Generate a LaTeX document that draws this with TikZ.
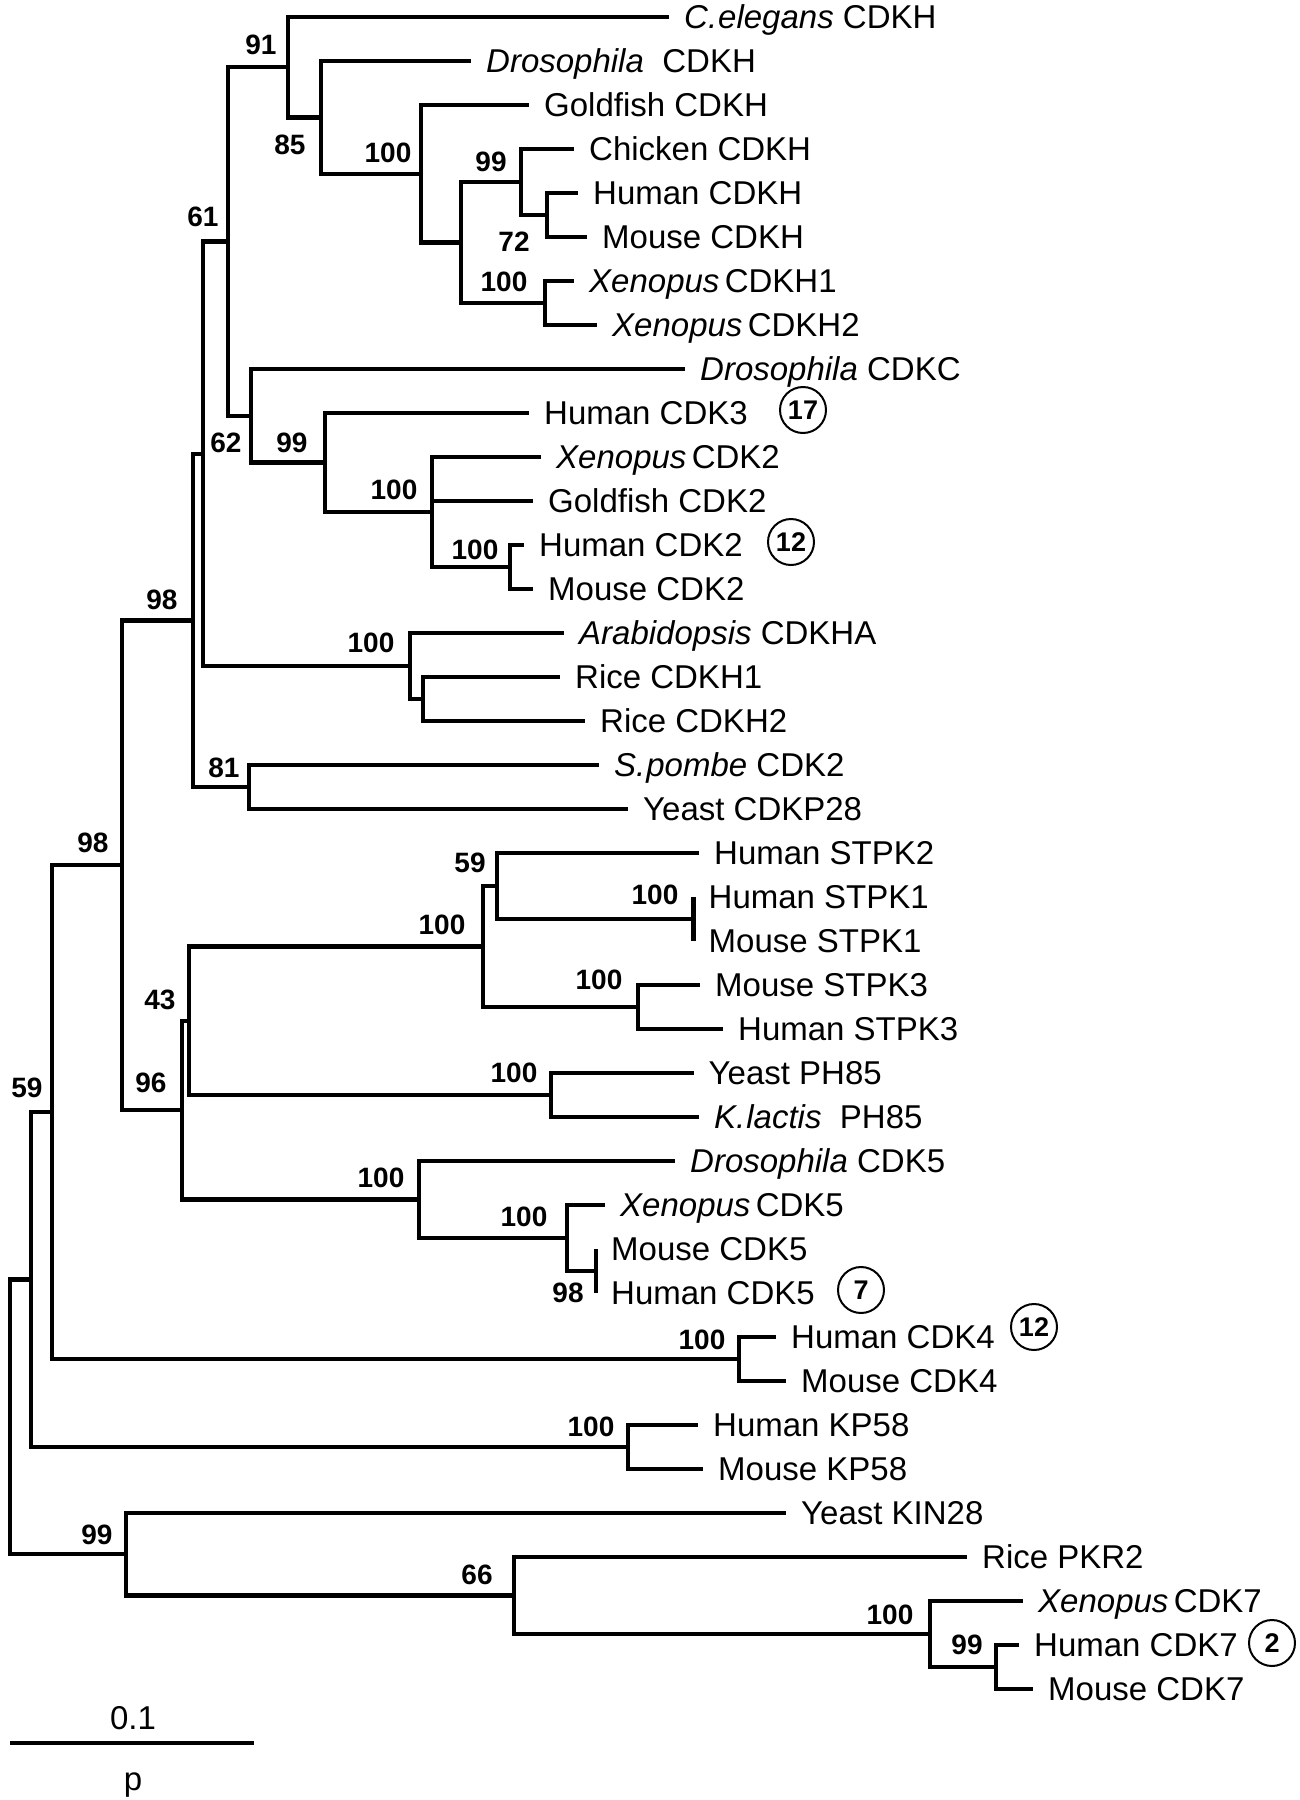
\documentclass[tikz,border=0pt]{standalone}
\usepackage{fontspec}
\setmainfont{Liberation Sans}
\newcommand{\xen}{\textit{Xenopus}\hspace{0.16em}}
\begin{document}
\begin{tikzpicture}[x=1pt,y=-1pt,
  tree/.style={line width=4.3pt},
  leaf/.style={anchor=west, inner xsep=15pt, inner ysep=0pt, text height=23.6pt, text depth=0pt, font=\fontsize{33}{40}\selectfont},
  bs/.style={inner sep=0pt, font=\bfseries\fontsize{28}{34}\selectfont},
  circ/.style={draw, circle, line width=2pt, minimum size=46pt, inner sep=0pt, font=\bfseries\fontsize{27}{30}\selectfont},
  plain/.style={inner sep=0pt, font=\fontsize{33}{40}\selectfont}]
\useasboundingbox (0,0) rectangle (1300,1800);
% ---------- leaves ----------
\node[leaf] (l1)  at (669,17)   {\textit{C.\kern1pt elegans} CDKH};
\node[leaf] (l2)  at (471,61)   {\textit{Drosophila}\hspace{0.28em} CDKH};
\node[leaf] (l3)  at (529,105)  {Goldfish CDKH};
\node[leaf] (l4)  at (574,149)  {Chicken CDKH};
\node[leaf] (l5)  at (578,193)  {Human CDKH};
\node[leaf] (l6)  at (587,237)  {Mouse CDKH};
\node[leaf] (l7)  at (574,281)  {\xen CDKH1};
\node[leaf] (l8)  at (597,325)  {\xen CDKH2};
\node[leaf] (l9)  at (685,369)  {\textit{Drosophila} CDKC};
\node[leaf] (l10) at (529,413)  {Human CDK3};
\node[leaf] (l11) at (541,457)  {\xen CDK2};
\node[leaf] (l12) at (533,501)  {Goldfish CDK2};
\node[leaf] (l13) at (524,545)  {Human CDK2};
\node[leaf] (l14) at (533,589)  {Mouse CDK2};
\node[leaf] (l15) at (564,633)  {\textit{Arabidopsis} CDKHA};
\node[leaf] (l16) at (560,677)  {Rice CDKH1};
\node[leaf] (l17) at (585,721)  {Rice CDKH2};
\node[leaf] (l18) at (599,765)  {\textit{S.\kern1pt pombe} CDK2};
\node[leaf] (l19) at (628,809)  {Yeast CDKP28};
\node[leaf] (l20) at (699,853)  {Human STPK2};
\node[leaf] (l21) at (693.5,897)  {Human STPK1};
\node[leaf] (l22) at (693.5,941)  {Mouse STPK1};
\node[leaf] (l23) at (700,985)  {Mouse STPK3};
\node[leaf] (l24) at (723,1029) {Human STPK3};
\node[leaf] (l25) at (693.5,1073) {Yeast PH85};
\node[leaf] (l26) at (699,1117) {\textit{K.\kern1pt lactis}\hspace{0.28em} PH85};
\node[leaf] (l27) at (675,1161) {\textit{Drosophila} CDK5};
\node[leaf] (l28) at (605,1205) {\xen CDK5};
\node[leaf] (l29) at (596,1249) {Mouse CDK5};
\node[leaf] (l30) at (596,1293) {Human CDK5};
\node[leaf] (l31) at (776,1337) {Human CDK4};
\node[leaf] (l32) at (786,1381) {Mouse CDK4};
\node[leaf] (l33) at (698,1425) {Human KP58};
\node[leaf] (l34) at (703,1469) {Mouse KP58};
\node[leaf] (l35) at (786,1513) {Yeast KIN28};
\node[leaf] (l36) at (967,1557) {Rice PKR2};
\node[leaf] (l37) at (1023,1601) {\xen CDK7};
\node[leaf] (l38) at (1019,1645) {Human CDK7};
\node[leaf] (l39) at (1033,1689) {Mouse CDK7};
% ---------- circled counts ----------
\node[circ] (c17) at (803,410)  {17};
\node[circ] (c12a) at (791,542) {12};
\node[circ] (c7)  at (861,1290) {7};
\node[circ] (c12b) at (1034,1327) {12};
\node[circ] (c2)  at (1272,1643) {2};
% ---------- internal nodes ----------
\coordinate (root)  at (10,1417);
\coordinate (nA)    at (31,1279.5);
\coordinate (nB)    at (52,1112);
\coordinate (nC)    at (122,865.2);
\coordinate (nD)    at (193,620.4);
\coordinate (nF)    at (203,453.7);
\coordinate (n61)   at (228,241.5);
\coordinate (n91)   at (288,67.2);
\coordinate (n85)   at (321,117.4);
\coordinate (n100a) at (421,173.75);
\coordinate (nb)    at (461,242.5);
\coordinate (n99)   at (521,182);
\coordinate (n72)   at (547,215);
\coordinate (n100x) at (545,303);
\coordinate (n62)   at (251,415.75);
\coordinate (n99d)  at (325,462.5);
\coordinate (n100d) at (432,512);
\coordinate (n100e) at (510,567);
\coordinate (nArab) at (410,666);
\coordinate (nRice) at (423,699);
\coordinate (n81)   at (249,787);
\coordinate (nE)    at (182,1110);
\coordinate (n43)   at (189,1020.75);
\coordinate (nS)    at (483,946.5);
\coordinate (n59s)  at (497,886);
\coordinate (nST1)  at (693.5,919);
\coordinate (nST3)  at (638,1007);
\coordinate (nPH)   at (551,1095);
\coordinate (nC5)   at (419,1199.5);
\coordinate (nC5b)  at (567,1238);
\coordinate (nC5c)  at (596,1271);
\coordinate (nCDK4) at (739,1359);
\coordinate (nKP)   at (628,1447);
\coordinate (n99b)  at (126,1554.25);
\coordinate (n66)   at (514,1595.5);
\coordinate (nC7)   at (930,1634);
\coordinate (nC7b)  at (996,1667);
% ---------- branches ----------
\draw[tree] (root) |- (nA);
\draw[tree] (root) |- (n99b);
\draw[tree] (nA) |- (nB);
\draw[tree] (nA) |- (nKP);
\draw[tree] (nB) |- (nC);
\draw[tree] (nB) |- (nCDK4);
\draw[tree] (nC) |- (nD);
\draw[tree] (nC) |- (nE);
\draw[tree] (nD) |- (nF);
\draw[tree] (nD) |- (n81);
\draw[tree] (nF) |- (n61);
\draw[tree] (nF) |- (nArab);
\draw[tree] (n61) |- (n91);
\draw[tree] (n61) |- (n62);
\draw[tree] (n91) |- (l1.west);
\draw[tree] (n91) |- (n85);
\draw[tree] (n85) |- (l2.west);
\draw[tree] (n85) |- (n100a);
\draw[tree] (n100a) |- (l3.west);
\draw[tree] (n100a) |- (nb);
\draw[tree] (nb) |- (n99);
\draw[tree] (nb) |- (n100x);
\draw[tree] (n99) |- (l4.west);
\draw[tree] (n99) |- (n72);
\draw[tree] (n72) |- (l5.west);
\draw[tree] (n72) |- (l6.west);
\draw[tree] (n100x) |- (l7.west);
\draw[tree] (n100x) |- (l8.west);
\draw[tree] (n62) |- (l9.west);
\draw[tree] (n62) |- (n99d);
\draw[tree] (n99d) |- (l10.west);
\draw[tree] (n99d) |- (n100d);
\draw[tree] (n100d) |- (l11.west);
\draw[tree] (n100d) |- (l12.west);
\draw[tree] (n100d) |- (n100e);
\draw[tree] (n100e) |- (l13.west);
\draw[tree] (n100e) |- (l14.west);
\draw[tree] (nArab) |- (l15.west);
\draw[tree] (nArab) |- (nRice);
\draw[tree] (nRice) |- (l16.west);
\draw[tree] (nRice) |- (l17.west);
\draw[tree] (n81) |- (l18.west);
\draw[tree] (n81) |- (l19.west);
\draw[tree] (nE) |- (n43);
\draw[tree] (nE) |- (nC5);
\draw[tree] (n43) |- (nS);
\draw[tree] (n43) |- (nPH);
\draw[tree] (nS) |- (n59s);
\draw[tree] (nS) |- (nST3);
\draw[tree] (n59s) |- (l20.west);
\draw[tree] (n59s) |- (nST1);
\draw[tree] (nST1) -- (nST1 |- l21.west);
\draw[tree] (nST1) -- (nST1 |- l22.west);
\draw[tree] (nST3) |- (l23.west);
\draw[tree] (nST3) |- (l24.west);
\draw[tree] (nPH) |- (l25.west);
\draw[tree] (nPH) |- (l26.west);
\draw[tree] (nC5) |- (l27.west);
\draw[tree] (nC5) |- (nC5b);
\draw[tree] (nC5b) |- (l28.west);
\draw[tree] (nC5b) |- (nC5c);
\draw[tree] (nC5c) -- (nC5c |- l29.west);
\draw[tree] (nC5c) -- (nC5c |- l30.west);
\draw[tree] (nCDK4) |- (l31.west);
\draw[tree] (nCDK4) |- (l32.west);
\draw[tree] (nKP) |- (l33.west);
\draw[tree] (nKP) |- (l34.west);
\draw[tree] (n99b) |- (l35.west);
\draw[tree] (n99b) |- (n66);
\draw[tree] (n66) |- (l36.west);
\draw[tree] (n66) |- (nC7);
\draw[tree] (nC7) |- (l37.west);
\draw[tree] (nC7) |- (nC7b);
\draw[tree] (nC7b) |- (l38.west);
\draw[tree] (nC7b) |- (l39.west);
% ---------- bootstrap values ----------
\node[bs] (b91)  at (261,45)   {91};
\node[bs] (b85)  at (290,145)  {85};
\node[bs] (b100a) at (388,153) {100};
\node[bs] (b99)  at (491,162)  {99};
\node[bs] (b72)  at (514,242)  {72};
\node[bs] (b100x) at (504,282) {100};
\node[bs] (b61)  at (203,217)  {61};
\node[bs] (b62)  at (226,443)  {62};
\node[bs] (b99d) at (292,443)  {99};
\node[bs] (b100d) at (394,490) {100};
\node[bs] (b100e) at (475,550) {100};
\node[bs] (b98t) at (162,600)  {98};
\node[bs] (b100f) at (371,643) {100};
\node[bs] (b81)  at (224,768)  {81};
\node[bs] (b98c) at (93,843)   {98};
\node[bs] (b59s) at (470,863)  {59};
\node[bs] (b100st1) at (655,895) {100};
\node[bs] (b100s) at (442,925) {100};
\node[bs] (b100st3) at (599,980) {100};
\node[bs] (b43)  at (160,1000) {43};
\node[bs] (b100ph) at (514,1073) {100};
\node[bs] (b96)  at (151,1083) {96};
\node[bs] (b59)  at (27,1088)  {59};
\node[bs] (b100c5) at (381,1178) {100};
\node[bs] (b100c5b) at (524,1217) {100};
\node[bs] (b98c5) at (568,1293) {98};
\node[bs] (b100c4) at (702,1340) {100};
\node[bs] (b100kp) at (591,1427) {100};
\node[bs] (b99b) at (97,1535)  {99};
\node[bs] (b66)  at (477,1575) {66};
\node[bs] (b100c7) at (890,1615) {100};
\node[bs] (b99c7) at (967,1645) {99};
% ---------- scale bar ----------
\coordinate (sb1) at (10,1743);
\coordinate (sb2) at (254,1743);
\draw[line width=4.3pt] (sb1) -- (sb2);
\node[plain, anchor=base] (sbl) at (133,1729) {0.1};
\node[plain, anchor=base] (sbp) at (133,1790) {p};
\end{tikzpicture}
\end{document}
